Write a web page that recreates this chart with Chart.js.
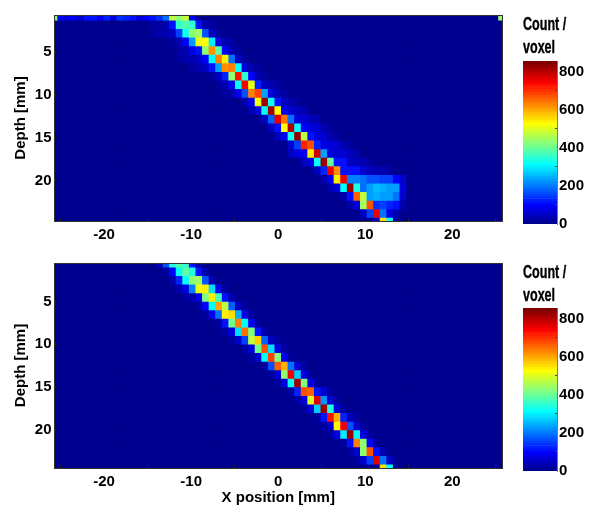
<!DOCTYPE html>
<html>
<head>
<meta charset="utf-8">
<title>Count per voxel maps</title>
<script src="https://cdn.jsdelivr.net/npm/chart.js@4"></script>
<style>
  html, body { margin: 0; background: #fff; }
  canvas { position: absolute; }
  .bar-title {
      position: absolute; left: 523px; margin: 0;
      font: bold 19px/23px "Liberation Sans", Arial, sans-serif;
      -webkit-text-stroke: 0.4px #000;
      transform: scaleX(0.66); transform-origin: left top;
  }
</style>
</head>
<body>
<canvas id="top-map" width="510" height="240" style="left:0;top:0"></canvas>
<canvas id="bottom-map" width="510" height="265" style="left:0;top:248px"></canvas>
<canvas id="top-bar" width="77" height="240" style="left:523px;top:0"></canvas>
<canvas id="bottom-bar" width="77" height="240" style="left:523px;top:247px"></canvas>
<p class="bar-title" style="top:12px">Count /</p>
<p class="bar-title" style="top:35px">voxel</p>
<p class="bar-title" style="top:260px">Count /</p>
<p class="bar-title" style="top:283px">voxel</p>
<script>
// Tick labels
const xTicks = [-20, -10, 0, 10, 20];
const depthTicks = [5, 10, 15, 20];
const countTicks = [0, 200, 400, 600, 800];
const countMax = 857;
const colorLevels = 64;

// Voxel grid: 69 columns across the X range, 25 rows of depth
const xLimit = 25.7;
const columnCount = 69;
const columnStep = 2 * xLimit / 68;
const backgroundCount = 6;

// Top panel: first column of each row, then the counts
const topStarts = [0, 15, 15, 18, 19, 19, 21, 24, 25, 26, 29, 30, 32, 33, 34, 36, 36, 38, 40, 41, 42, 44, 45, 47, 49];
const topRows = [
    [430, 100, 70, 90, 60, 120, 110, 90, 130, 70, 140, 130, 110, 80, 100, 110, 140, 190, 470, 430, 470, 90, 25],
    [14, 18, 30, 110, 360, 380, 350, 110, 30, 14],
    [20, 30, 40, 50, 150, 330, 440, 450, 170, 50, 20],
    [20, 30, 100, 230, 510, 530, 300, 80, 30, 16],
    [20, 30, 90, 120, 440, 620, 400, 100, 40, 20],
    [25, 35, 40, 50, 100, 310, 640, 540, 190, 50, 25],
    [25, 40, 50, 110, 230, 620, 640, 310, 70, 30, 20],
    [25, 50, 130, 430, 730, 350, 100, 40, 25],
    [25, 40, 90, 320, 740, 520, 130, 50, 30, 18],
    [25, 40, 90, 170, 640, 690, 230, 70, 40, 25],
    [40, 90, 510, 820, 330, 120, 50, 40, 25],
    [40, 80, 310, 820, 530, 90, 60, 50, 30],
    [50, 180, 770, 650, 200, 80, 60, 50, 30],
    [50, 110, 530, 810, 320, 100, 70, 60, 40, 20],
    [50, 90, 330, 840, 470, 110, 70, 60, 40, 25],
    [60, 150, 720, 680, 130, 70, 70, 60, 40, 25],
    [50, 70, 90, 540, 780, 240, 80, 60, 60, 50, 30],
    [50, 70, 320, 830, 390, 110, 110, 50, 50, 40, 25],
    [50, 130, 750, 620, 120, 120, 120, 60, 50, 40, 30, 20],
    [40, 90, 540, 760, 210, 210, 190, 170, 170, 160, 150, 100, 60],
    [40, 70, 310, 830, 340, 200, 230, 260, 250, 240, 230, 70],
    [40, 110, 660, 480, 230, 250, 230, 240, 190, 60],
    [40, 70, 450, 670, 140, 150, 130, 120, 40],
    [50, 150, 760, 200, 80, 30],
    [60, 560, 330, 20]
];
const topCorner = [430];

// Bottom panel, same layout
const bottomStarts = [16, 17, 18, 19, 20, 22, 23, 25, 26, 27, 29, 30, 32, 33, 34, 36, 37, 38, 40, 41, 42, 44, 45, 46, 49];
const bottomRows = [
    [30, 170, 340, 380, 350, 120, 30],
    [20, 100, 320, 400, 340, 110, 30],
    [40, 130, 320, 440, 450, 170, 40],
    [30, 80, 210, 510, 540, 290, 90, 20],
    [20, 30, 90, 420, 540, 370, 110, 30],
    [20, 100, 310, 610, 480, 180, 50, 15],
    [20, 90, 200, 540, 560, 250, 70, 20],
    [20, 120, 410, 630, 320, 90, 25],
    [20, 70, 290, 650, 420, 120, 30],
    [20, 60, 160, 470, 570, 180, 50, 15],
    [20, 80, 410, 670, 290, 80, 25],
    [20, 60, 310, 690, 420, 90, 25],
    [20, 170, 660, 590, 190, 60, 20],
    [20, 60, 440, 750, 280, 80, 25],
    [25, 70, 310, 820, 420, 90, 25],
    [20, 130, 680, 660, 120, 60, 20],
    [25, 70, 500, 770, 220, 60, 20],
    [25, 70, 270, 830, 340, 80, 25],
    [25, 110, 730, 590, 130, 50, 20],
    [20, 60, 530, 750, 170, 60, 15],
    [20, 70, 300, 820, 310, 70, 20],
    [20, 120, 640, 440, 100, 25],
    [20, 60, 430, 680, 110, 30],
    [15, 60, 150, 770, 190, 50],
    [20, 560, 310]
];

Chart.defaults.font.family = '"Liberation Sans", Arial, sans-serif';
Chart.defaults.font.size = 15;
Chart.defaults.font.weight = 'bold';
Chart.defaults.color = '#000';
Chart.defaults.animation = false;
Chart.defaults.events = [];

// MATLAB jet colormap with 64 steps
function jetColor(value) {
    const clamp = v => Math.round(Math.min(1, Math.max(0, v)) * 255);
    const level = Math.min(colorLevels - 1, Math.floor(value / countMax * colorLevels));
    const t = (level + 1) / colorLevels;
    return `rgb(${clamp(1.5 - Math.abs(4 * t - 3))},${clamp(1.5 - Math.abs(4 * t - 2))},${clamp(1.5 - Math.abs(4 * t - 1))})`;
}

// One bar dataset per depth row, each voxel a floating bar
function buildRows(starts, rows, firstDepth, corner) {
    return rows.map((row, i) => {
        const counts = new Array(columnCount).fill(backgroundCount);
        row.forEach((v, j) => { counts[starts[i] + j] = v; });
        if (corner && i === 0) counts[columnCount - 1] = corner[0];
        return {
            data: counts.map((v, k) => ({
                x: -xLimit + k * columnStep,
                y: [firstDepth + i - 0.5, firstDepth + i + 0.5]
            })),
            backgroundColor: counts.map(jetColor),
            borderWidth: 0,
            inflateAmount: 0.5,
            grouped: false,
            barPercentage: 1,
            categoryPercentage: 1
        };
    });
}

function frameAxis(position) {
    const horizontal = position === 'top';
    return {
        position: position,
        min: 0,
        max: 1,
        offset: false,
        ticks: { display: false },
        grid: { drawTicks: false, drawOnChartArea: false },
        border: { color: '#333', z: 1 },
        afterFit: s => { if (horizontal) s.height = 0; else s.width = 0; }
    };
}

function drawMap(id, datasets, opts) {
    new Chart(document.getElementById(id), {
        type: 'bar',
        data: { datasets: datasets },
        options: {
            responsive: false,
            layout: { padding: { top: opts.top, right: 8 } },
            plugins: { legend: { display: false }, tooltip: { enabled: false } },
            scales: {
                x: {
                    type: 'linear',
                    offset: false,
                    min: -xLimit,
                    max: xLimit,
                    afterBuildTicks: s => { s.ticks = xTicks.map(v => ({ value: v })); },
                    ticks: { padding: 8, maxRotation: 0, autoSkip: false },
                    grid: { tickLength: -3, drawOnChartArea: false, color: '#222', z: 1 },
                    border: { color: '#333', z: 1 },
                    title: {
                        display: opts.xTitle !== '',
                        text: opts.xTitle,
                        padding: { top: 0, bottom: 6 }
                    },
                    afterFit: s => { s.height = opts.xHeight; }
                },
                y: {
                    type: 'linear',
                    reverse: true,
                    min: opts.depthMin,
                    max: opts.depthMax,
                    afterBuildTicks: s => { s.ticks = depthTicks.map(v => ({ value: v })); },
                    ticks: { padding: 6, autoSkip: false },
                    grid: { tickLength: -3, drawOnChartArea: false, color: '#222', z: 1 },
                    border: { color: '#333', z: 1 },
                    title: {
                        display: true,
                        text: 'Depth [mm]',
                        padding: { top: 12, bottom: 0 }
                    },
                    afterFit: s => { s.width = 54.5; }
                },
                xTop: frameAxis('top'),
                yRight: frameAxis('right')
            }
        }
    });
}

function drawColorBar(id) {
    const levels = [];
    for (let i = 0; i < colorLevels; i++) levels.push((i + 0.5) * countMax / colorLevels);

    new Chart(document.getElementById(id), {
        type: 'bar',
        data: {
            datasets: [{
                data: levels.map(v => ({ x: [0, 1], y: v })),
                backgroundColor: levels.map(jetColor),
                borderWidth: 0,
                barPercentage: 1,
                categoryPercentage: 1
            }]
        },
        options: {
            responsive: false,
            indexAxis: 'y',
            layout: { padding: { top: 61, bottom: 16 } },
            plugins: { legend: { display: false }, tooltip: { enabled: false } },
            scales: {
                x: { type: 'linear', min: 0, max: 1, display: false },
                y: {
                    type: 'linear',
                    position: 'right',
                    offset: false,
                    min: 0,
                    max: countMax,
                    afterBuildTicks: s => { s.ticks = countTicks.map(v => ({ value: v })); },
                    ticks: { padding: 4, autoSkip: false },
                    grid: { tickLength: -2, drawOnChartArea: false, color: '#444', z: 1 },
                    border: { color: '#777', z: 1 },
                    afterFit: s => { s.width = 43; }
                }
            }
        }
    });
}

drawMap('top-map', buildRows(topStarts, topRows, 0.75, topCorner), {
    top: 12.5, xHeight: 19, xTitle: '', depthMin: 0.68, depthMax: 24.68
});
drawMap('bottom-map', buildRows(bottomStarts, bottomRows, 0.48, null), {
    top: 11.5, xHeight: 45, xTitle: 'X position [mm]', depthMin: 0.52, depthMax: 24.45
});
drawColorBar('top-bar');
drawColorBar('bottom-bar');
</script>
</body>
</html>
